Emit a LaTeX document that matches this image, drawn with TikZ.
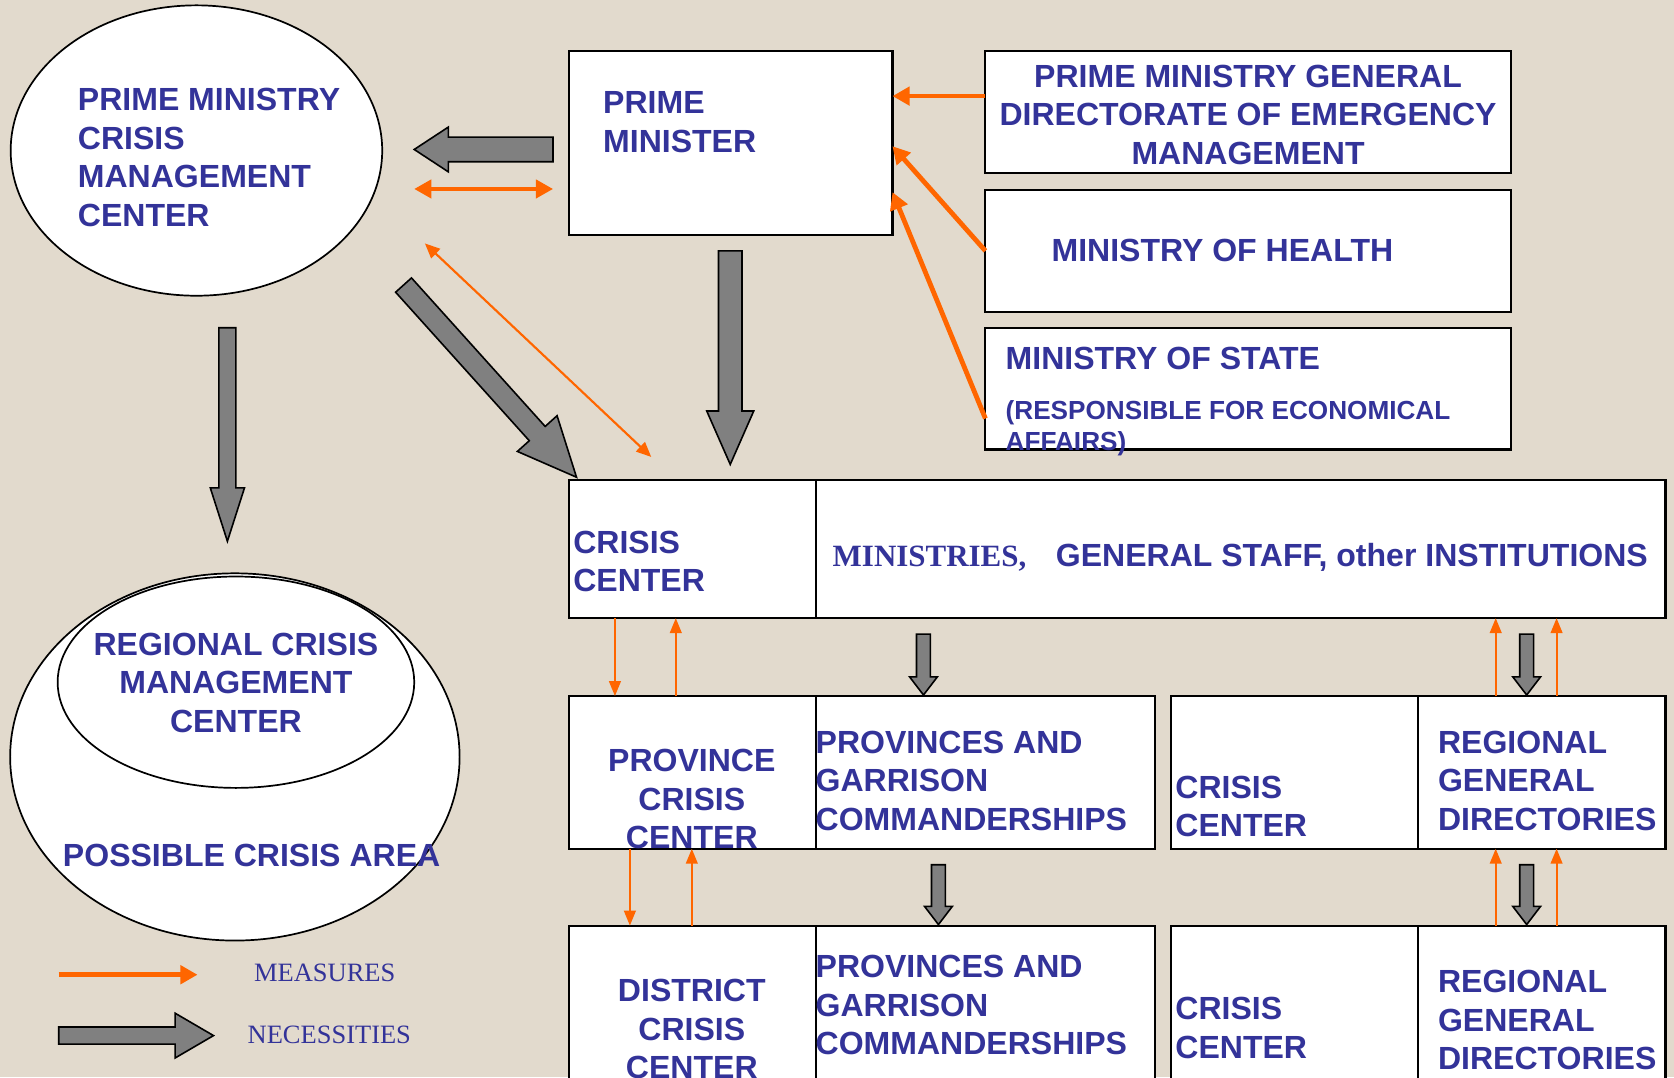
\documentclass[tikz,border=0pt]{standalone}
\usepackage{fontspec}
\setmainfont{Liberation Sans}
\newfontfamily\timesfont{Liberation Serif}
\usetikzlibrary{shapes.geometric,arrows.meta,calc}
\definecolor{bgbeige}{RGB}{226,218,205}
\definecolor{txtblue}{RGB}{51,51,153}
\definecolor{measorange}{RGB}{255,102,0}
\definecolor{necgray}{RGB}{128,128,128}
\tikzset{
  cell/.style={draw=black, fill=white, line width=2pt, inner sep=0pt, outer sep=0pt, anchor=north west},
  oval/.style={ellipse, draw=black, fill=white, line width=1.6pt, inner sep=0pt, outer sep=0pt},
  lbl/.style={text=txtblue, font=\bfseries\fontsize{30}{36}\selectfont, inner sep=0pt, outer sep=0pt},
  smalllbl/.style={text=txtblue, font=\bfseries\fontsize{24.5}{29}\selectfont, inner sep=0pt, outer sep=0pt},
  leglbl/.style={text=txtblue, font=\timesfont\fontsize{24.8}{30}\selectfont, inner sep=0pt, outer sep=0pt},
  measthick/.style={draw=measorange, line width=4.5pt, -{Triangle[length=16pt,width=17pt]}},
  measmid/.style={draw=measorange, line width=2pt, {Triangle[length=14pt,width=12pt]}-{Triangle[length=14pt,width=12pt]}},
  measthin/.style={draw=measorange, line width=1.8pt, -{Triangle[length=14pt,width=11pt]}},
  necessity/.style={fill=necgray, draw=black, line width=1.5pt, line join=miter}
}
\newcommand{\blockarrow}[5]{%
  \coordinate (bh) at ($(#2)!#5!(#1)$);
  \draw[necessity] ($(#1)!#3!90:(#2)$) -- ($(bh)!#3!90:(#2)$) -- ($(bh)!#4!90:(#2)$)
     -- (#2) -- ($(bh)!#4!-90:(#2)$) -- ($(bh)!#3!-90:(#2)$) -- ($(#1)!#3!-90:(#2)$) -- cycle;
}
\begin{document}
\begin{tikzpicture}[x=1pt,y=-1pt]
\useasboundingbox (0,0) rectangle (1568,1009);
\fill[bgbeige] (0,0) rectangle (1568,1009);
\clip (0,0) rectangle (1568,1009);

% ellipses
\node[oval, minimum width=348pt, minimum height=272pt] (pmcc) at (184,141) {};
\node[oval, minimum width=421pt, minimum height=344pt] (area) at (220,709) {};
\node[oval, minimum width=334pt, minimum height=198pt] (rcmc) at (221,639) {};

% boxes
\node[cell, minimum width=303pt, minimum height=172pt] (pm) at (533,48) {};
\node[cell, minimum width=492pt, minimum height=114pt] (pmgd) at (923,48) {};
\node[cell, minimum width=492pt, minimum height=114pt] (health) at (923,178) {};
\node[cell, minimum width=492pt, minimum height=114pt] (state) at (923,307) {};
\node[cell, minimum width=231pt, minimum height=129pt] (cc1) at (533,450) {};
\node[cell, minimum width=796pt, minimum height=129pt] (inst) at (764,450) {};
\node[cell, minimum width=231pt, minimum height=143pt] (prov) at (533,652) {};
\node[cell, minimum width=318pt, minimum height=143pt] (provcmd) at (764,652) {};
\node[cell, minimum width=231pt, minimum height=143pt] (cc2) at (1097,652) {};
\node[cell, minimum width=232pt, minimum height=143pt] (rgd1) at (1328,652) {};
\node[cell, minimum width=231pt, minimum height=170pt] (dist) at (533,867) {};
\node[cell, minimum width=318pt, minimum height=170pt] (provcmd2) at (764,867) {};
\node[cell, minimum width=231pt, minimum height=170pt] (cc3) at (1097,867) {};
\node[cell, minimum width=232pt, minimum height=170pt] (rgd2) at (1328,867) {};

% gray (necessities) arrows
\coordinate (g1s) at (518,140); \coordinate (g1e) at (388,140);
\blockarrow{g1s}{g1e}{11.5pt}{21pt}{32pt}
\coordinate (g2s) at (684,235); \coordinate (g2e) at (684,435);
\blockarrow{g2s}{g2e}{11pt}{22pt}{50pt}
\coordinate (g3s) at (378,267); \coordinate (g3e) at (540,447);
\blockarrow{g3s}{g3e}{10pt}{25pt}{55pt}
\coordinate (g4s) at (213,307); \coordinate (g4e) at (213,507);
\blockarrow{g4s}{g4e}{8pt}{16pt}{50pt}
\coordinate (g5s) at (865,594); \coordinate (g5e) at (865,651);
\blockarrow{g5s}{g5e}{6.5pt}{13pt}{17pt}
\coordinate (g6s) at (1430,594); \coordinate (g6e) at (1430,651);
\blockarrow{g6s}{g6e}{6.5pt}{13pt}{17pt}
\coordinate (g7s) at (879,810); \coordinate (g7e) at (879,866);
\blockarrow{g7s}{g7e}{6.5pt}{13pt}{17pt}
\coordinate (g8s) at (1430,810); \coordinate (g8e) at (1430,866);
\blockarrow{g8s}{g8e}{6.5pt}{13pt}{17pt}
\coordinate (lgs) at (55,970); \coordinate (lge) at (200,970);
\blockarrow{lgs}{lge}{8pt}{21pt}{36pt}

% orange (measures) arrows
\coordinate (o1a) at (388,177); \coordinate (o1b) at (518,177);
\draw[measthick, {Triangle[length=16pt,width=17pt]}-{Triangle[length=16pt,width=17pt]}, line width=3.5pt] (o1a) -- (o1b);
\draw[measthick] ([yshift=15pt]pmgd.west) -- ([yshift=44pt]pm.east);
\draw[measthick] (health.west) -- ([yshift=-3pt]pm.east);
\draw[measthick] ([yshift=-28pt]state.west) -- ([yshift=-46pt]pm.east);
\coordinate (o5a) at (398,228); \coordinate (o5b) at (610,428);
\draw[measmid] (o5a) -- (o5b);
\draw[measthin] ([xshift=-72.5pt]cc1.south) -- ([xshift=-72.5pt]prov.north);
\draw[measthin] ([xshift=-15.5pt]prov.north) -- ([xshift=-15.5pt]cc1.south);
\draw[measthin] ([xshift=-58.5pt]prov.south) -- ([xshift=-58.5pt]dist.north);
\draw[measthin] ([xshift=-0.5pt]dist.north) -- ([xshift=-0.5pt]prov.south);
\draw[measthin] ([xshift=-43pt]rgd1.north) -- (1401,579);
\draw[measthin] ([xshift=14pt]rgd1.north) -- (1458,579);
\draw[measthin] ([xshift=-43pt]rgd2.north) -- ([xshift=-43pt]rgd1.south);
\draw[measthin] ([xshift=14pt]rgd2.north) -- ([xshift=14pt]rgd1.south);
\coordinate (lma) at (55,913); \coordinate (lmb) at (185,913);
\draw[measthick] (lma) -- (lmb);

% texts
\begin{scope}[yshift=-1.5pt]
\node[lbl, align=left, anchor=west] (tpmcc) at (73,146) {PRIME MINISTRY\\CRISIS\\MANAGEMENT\\CENTER};
\node[lbl, align=left, anchor=west] (tpm) at (565,113) {PRIME\\MINISTER};
\node[lbl, align=center] (tpmgd) at (1169,106) {PRIME MINISTRY GENERAL\\DIRECTORATE OF EMERGENCY\\MANAGEMENT};
\node[lbl, anchor=west] (thealth) at (985,233) {MINISTRY OF HEALTH};
\node[lbl, anchor=west] (tstate) at (942,334) {MINISTRY OF STATE};
\node[smalllbl, anchor=base west] (tresp) at (942,391) {(RESPONSIBLE FOR ECONOMICAL};
\node[smalllbl, anchor=base west] (taff) at (942,420) {AFFAIRS)};
\node[lbl, align=left, anchor=west] (tcc1) at (537,524.5) {CRISIS\\CENTER};
\node[lbl, font=\timesfont\bfseries\fontsize{29}{36}\selectfont, anchor=base west] (tmin) at (780,529) {MINISTRIES,};
\node[lbl, anchor=base west] (tgs) at (989,529) {GENERAL STAFF, other INSTITUTIONS};
\node[lbl, align=center] (tprov) at (648,747) {PROVINCE\\CRISIS\\CENTER};
\node[lbl, align=left, anchor=west] (tpc1) at (764,729.7) {PROVINCES AND\\GARRISON\\COMMANDERSHIPS};
\node[lbl, align=left, anchor=west] (tcc2) at (1101,754) {CRISIS\\CENTER};
\node[lbl, align=left, anchor=west] (trgd1) at (1347,729.7) {REGIONAL\\GENERAL\\DIRECTORIES};
\node[lbl, align=center] (tdist) at (648,962.7) {DISTRICT\\CRISIS\\CENTER};
\node[lbl, align=left, anchor=west] (tpc2) at (764,940) {PROVINCES AND\\GARRISON\\COMMANDERSHIPS};
\node[lbl, align=left, anchor=west] (tcc3) at (1101,961.5) {CRISIS\\CENTER};
\node[lbl, align=left, anchor=west] (trgd2) at (1347,954) {REGIONAL\\GENERAL\\DIRECTORIES};
\node[lbl, align=center] (trcmc) at (221,638) {REGIONAL CRISIS\\MANAGEMENT\\CENTER};
\node[lbl, anchor=west] (tarea) at (59,800) {POSSIBLE CRISIS AREA};
\node[leglbl, anchor=base west] (tmeas) at (238,918) {MEASURES};
\node[leglbl, anchor=base west] (tnec) at (232,976) {NECESSITIES};
\end{scope}
\end{tikzpicture}
\end{document}
